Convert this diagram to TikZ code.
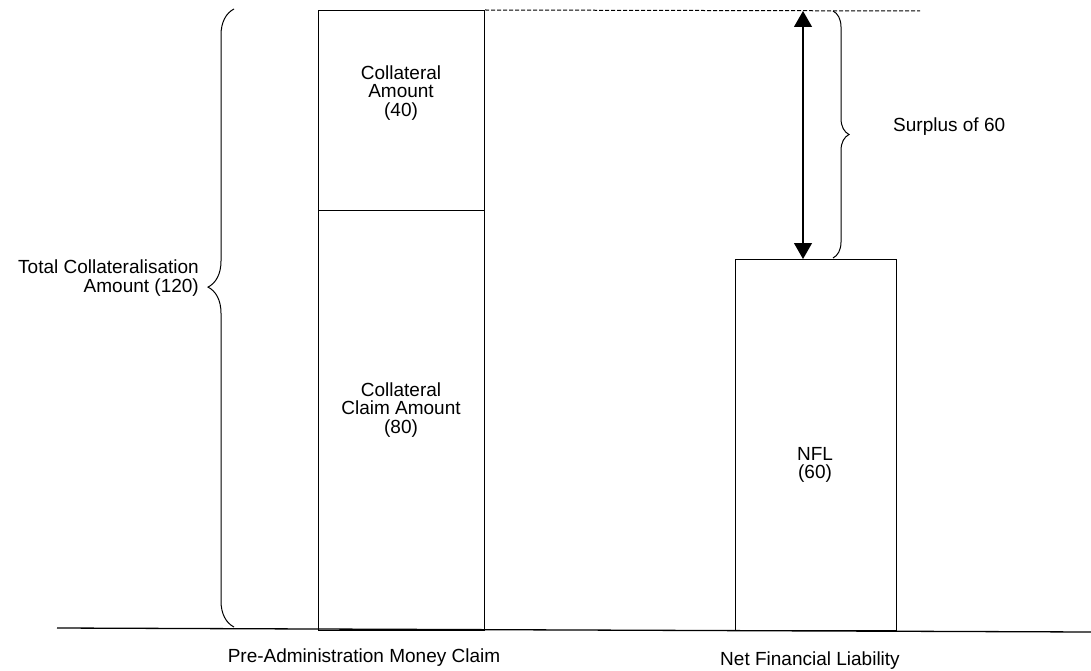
\documentclass[tikz,border=0pt]{standalone}
\usepackage{fontspec}
\setmainfont{Liberation Sans}
\usetikzlibrary{arrows.meta,decorations.pathreplacing}
\begin{document}
\begin{tikzpicture}[x=1pt,y=-1pt,
  bar/.style={draw,line width=1pt},
  lbl/.style={font=\fontsize{19}{18.5}\selectfont,align=center,inner sep=0pt},
  curly/.style={draw,line width=1pt,decorate,decoration={brace,amplitude=#1}},
  dim/.style={line width=1.1pt,{Triangle[length=16pt,width=18pt]}-{Triangle[length=16pt,width=18pt]}}]
  \useasboundingbox (0,0) rectangle (1091,671);

  % axis line
  \coordinate (axL) at (57,628);
  \coordinate (axR) at (1091,632);
  \draw[line width=1.3pt] (axL) -- (axR);

  % stacked bar: pre-administration money claim
  \node[bar,minimum width=166pt,minimum height=200pt,inner sep=0pt,anchor=north west] (colamt) at (318,10) {};
  \node[bar,minimum width=166pt,minimum height=420pt,inner sep=0pt,anchor=north west] (colclaim) at (318,210) {};
  \node[lbl] at (401,93) {Collateral\\Amount\\(40)};
  \node[lbl] at (401,410) {Collateral\\Claim Amount\\(80)};

  % bar: net financial liability
  \node[bar,minimum width=161pt,minimum height=371pt,inner sep=0pt,anchor=north west] (nfl) at (735,259) {};
  \node[lbl] at (815,465) {NFL\\(60)};

  % top reference level
  \coordinate (lvl) at (920,11);
  \draw[line width=1pt,dash pattern=on 4pt off 2pt] (colamt.north east) -- (lvl);

  % surplus dimension
  \coordinate (arTop) at (803,11);
  \coordinate (arBot) at (803,259);
  \draw[dim] (arTop) -- (arBot);

  % braces
  \coordinate (bTop) at (833,11);
  \coordinate (bBot) at (833,258);
  \draw[curly=16pt] (bTop) -- (bBot);
  \node[lbl,anchor=west] at (893,127) {Surplus of 60};

  \coordinate (tTop) at (234,9);
  \coordinate (tBot) at (234,627);
  \draw[curly=26pt,decoration={aspect=0.55}] (tBot) -- (tTop);
  \node[lbl,align=right,anchor=east] at (199,278) {Total Collateralisation\\Amount (120)};

  % category labels
  \node[lbl] at (364,658) {Pre-Administration Money Claim};
  \node[lbl] at (810,661) {Net Financial Liability};
\end{tikzpicture}
\end{document}
